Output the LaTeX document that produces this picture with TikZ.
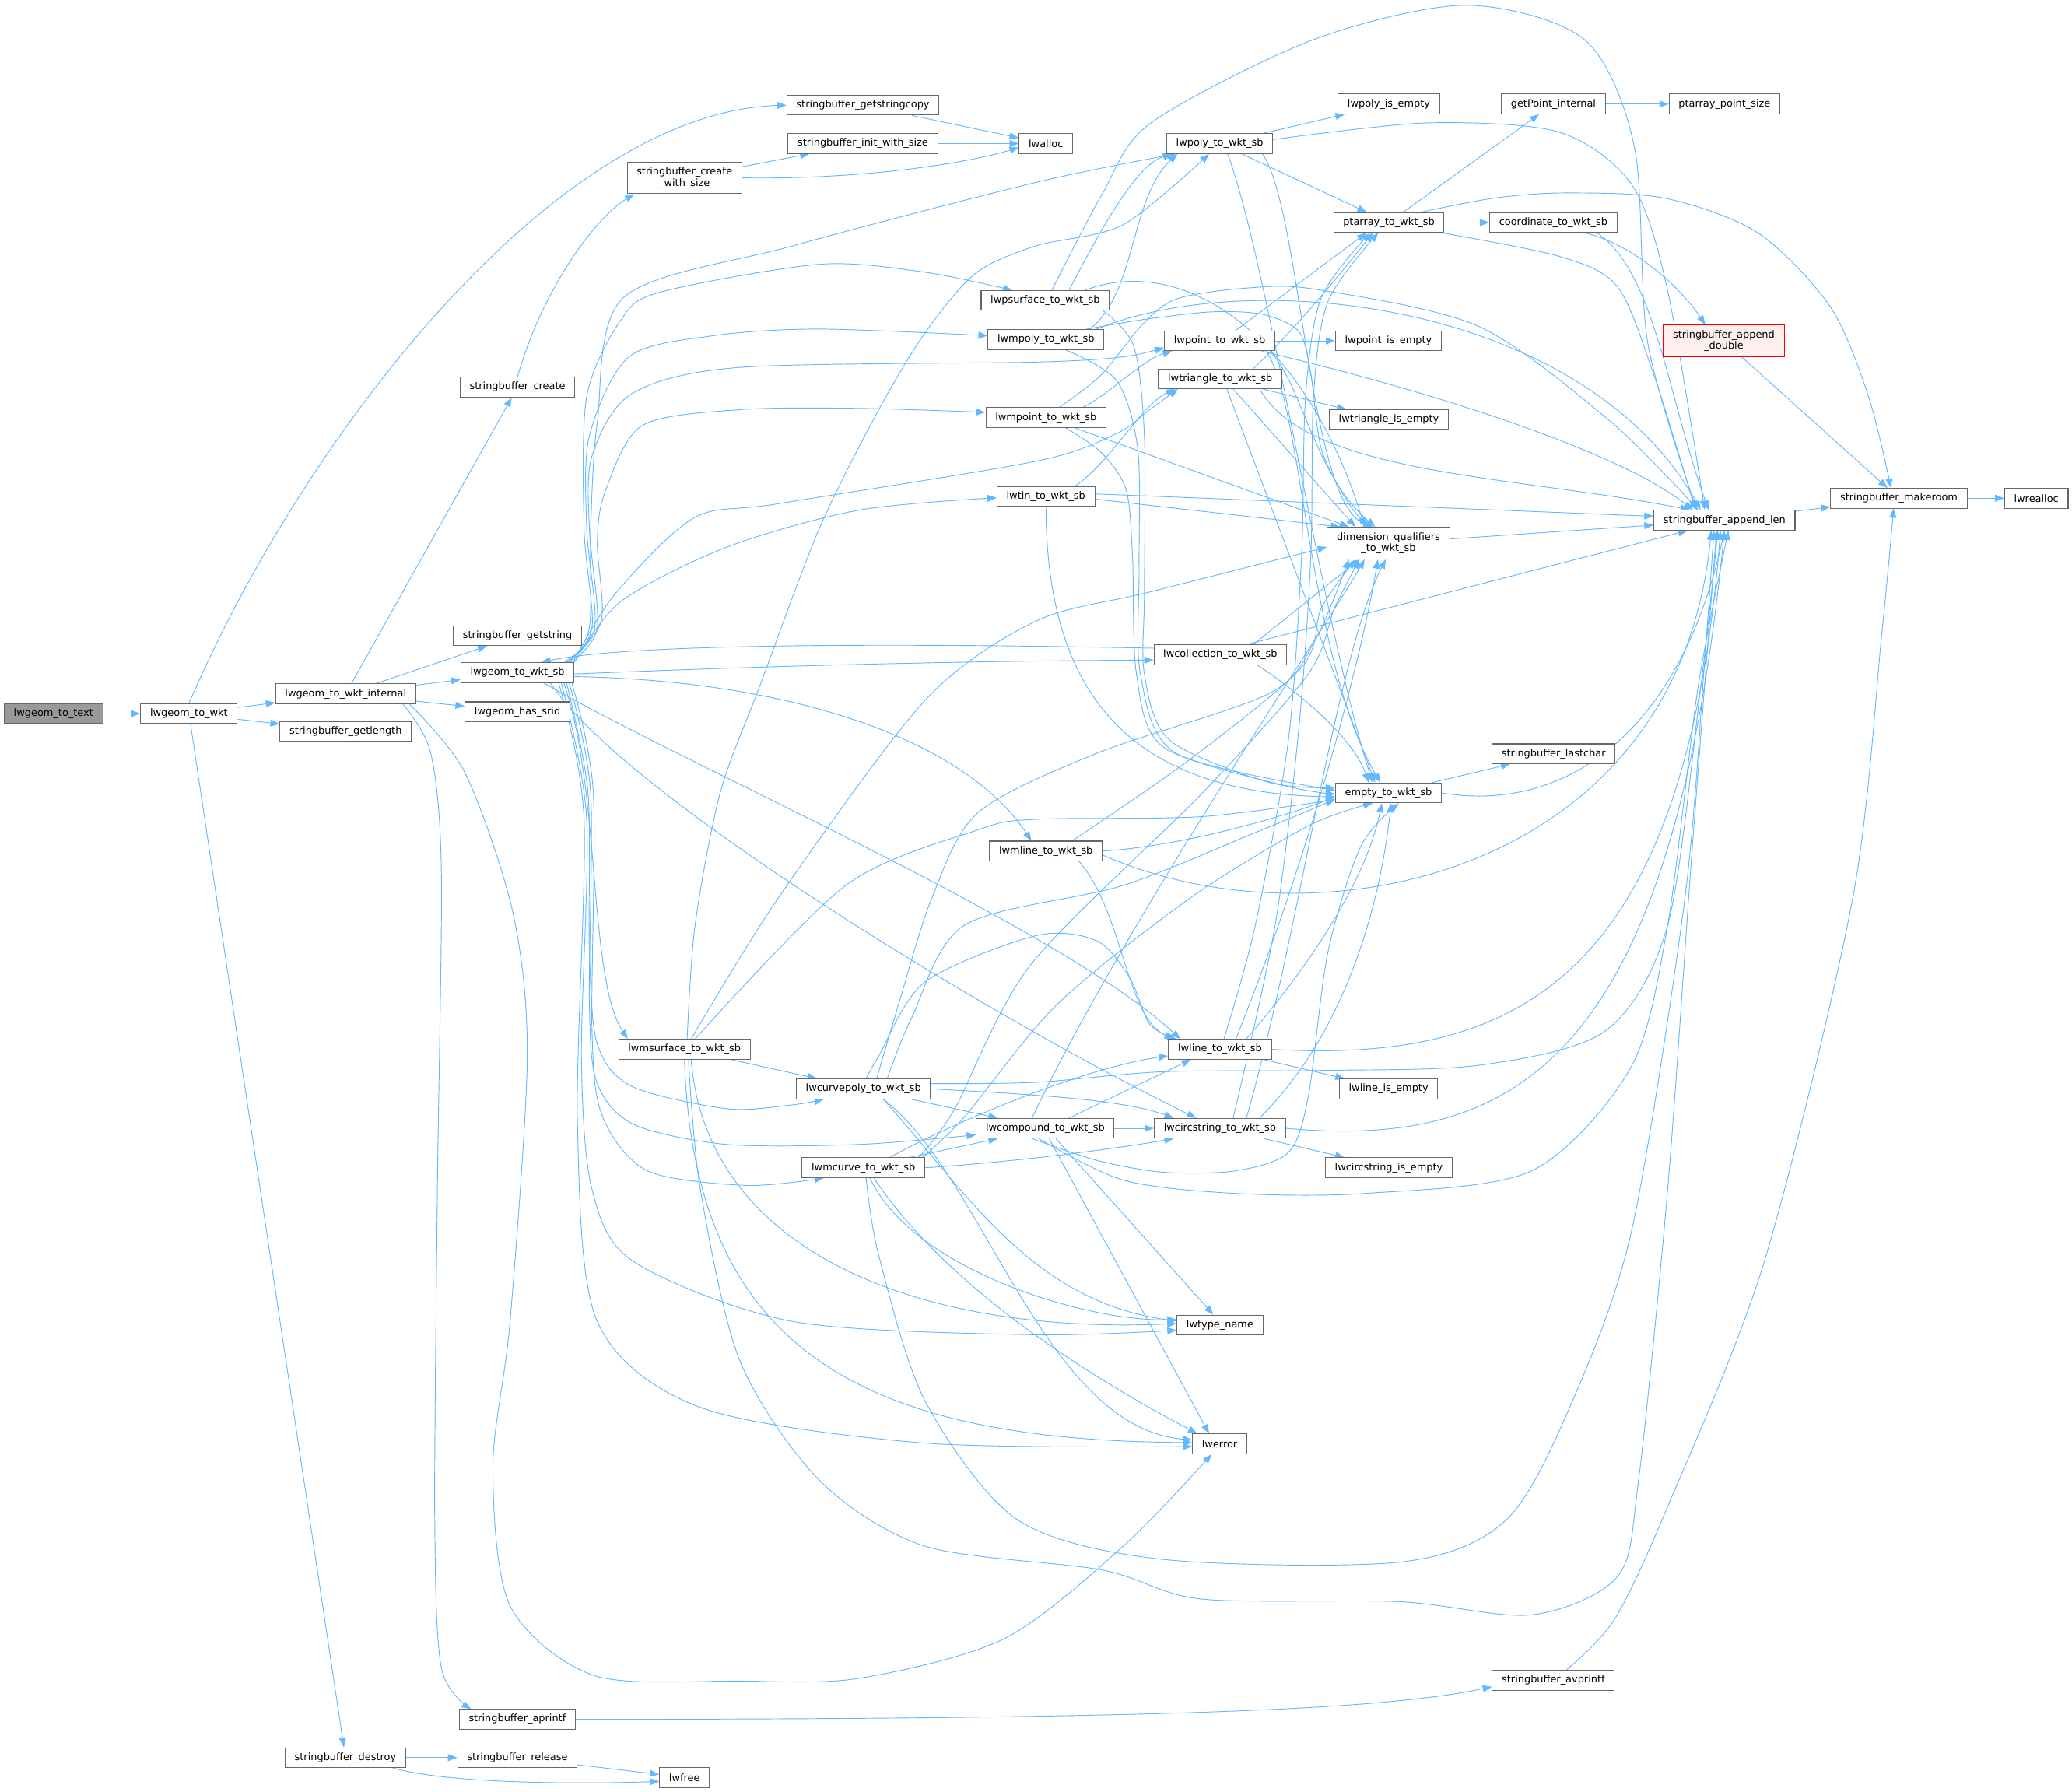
\documentclass[tikz,border=0pt]{standalone}
\usepackage{fontspec}
\setmainfont{DejaVu Sans}
\usetikzlibrary{arrows.meta}
\definecolor{edgec}{HTML}{63B8FF}
\definecolor{nodeb}{HTML}{666666}
\definecolor{rootf}{HTML}{999999}
\definecolor{redb}{HTML}{FF0000}
\definecolor{redf}{HTML}{FFF0F0}
\pgfdeclarelayer{background}
\pgfsetlayers{background,main}
\tikzset{
  nd/.style={draw=nodeb, fill=white, line width=0.6pt, inner xsep=7.2pt, inner ysep=0pt,
    minimum height=15pt, font=\fontsize{7.6}{8.7}\selectfont},
  nd2/.style={nd, align=center, minimum height=24pt},
  edg/.style={draw=edgec, line width=0.55pt, -{Triangle[length=7pt,width=5.2pt]}},
}
\begin{document}
\begin{tikzpicture}[x=1pt,y=-1pt]
\useasboundingbox (0,0) rectangle (1568,1356);
% nodes
\node[nd, fill=rootf] (root) at (40.5,540) {lwgeom\_to\_text};
\node[nd] (wkt) at (143,540) {lwgeom\_to\_wkt};
\node[nd] (internal) at (261.6,525) {lwgeom\_to\_wkt\_internal};
\node[nd] (getlength) at (261.6,553.6) {stringbuffer\_getlength};
\node[nd] (destroy) at (261.4,1330) {stringbuffer\_destroy};
\node[nd] (create) at (391.6,293) {stringbuffer\_create};
\node[nd] (getstring) at (391.6,481) {stringbuffer\_getstring};
\node[nd] (wktsb) at (391.6,509) {lwgeom\_to\_wkt\_sb};
\node[nd] (srid) at (391.6,538.6) {lwgeom\_has\_srid};
\node[nd] (aprintf) at (391.5,1301) {stringbuffer\_aprintf};
\node[nd] (release) at (391.5,1330) {stringbuffer\_release};
\node[nd2] (cws) at (518,134.6) {stringbuffer\_create\\\_with\_size};
\node[nd] (msurface) at (518,794) {lwmsurface\_to\_wkt\_sb};
\node[nd] (lwfree) at (518,1345) {lwfree};
\node[nd] (gcopy) at (653,79.6) {stringbuffer\_getstringcopy};
\node[nd] (iws) at (653,108.6) {stringbuffer\_init\_with\_size};
\node[nd] (curvepoly) at (653.4,824) {lwcurvepoly\_to\_wkt\_sb};
\node[nd] (mcurve) at (653.4,883.6) {lwmcurve\_to\_wkt\_sb};
\node[nd] (lwalloc) at (791.5,108.6) {lwalloc};
\node[nd] (psurface) at (791,227.4) {lwpsurface\_to\_wkt\_sb};
\node[nd] (mpoly) at (791.5,257) {lwmpoly\_to\_wkt\_sb};
\node[nd] (mpoint) at (791.5,316) {lwmpoint\_to\_wkt\_sb};
\node[nd] (tin) at (791.5,375.7) {lwtin\_to\_wkt\_sb};
\node[nd] (mline) at (791.5,644) {lwmline\_to\_wkt\_sb};
\node[nd] (compound) at (791,853.8) {lwcompound\_to\_wkt\_sb};
\node[nd] (poly) at (923,108.6) {lwpoly\_to\_wkt\_sb};
\node[nd] (point) at (923,258) {lwpoint\_to\_wkt\_sb};
\node[nd] (triangle) at (923.4,286.7) {lwtriangle\_to\_wkt\_sb};
\node[nd] (collection) at (923.5,495.5) {lwcollection\_to\_wkt\_sb};
\node[nd] (line) at (923.2,794) {lwline\_to\_wkt\_sb};
\node[nd] (circ) at (923.2,853.8) {lwcircstring\_to\_wkt\_sb};
\node[nd] (typename) at (923.2,1002.6) {lwtype\_name};
\node[nd] (lwerror) at (923,1092.6) {lwerror};
\node[nd] (polyempty) at (1051,78.7) {lwpoly\_is\_empty};
\node[nd] (ptarray) at (1051,168.4) {ptarray\_to\_wkt\_sb};
\node[nd] (pointempty) at (1050.7,258) {lwpoint\_is\_empty};
\node[nd] (triempty) at (1051,317.4) {lwtriangle\_is\_empty};
\node[nd2] (dimq) at (1050.7,411) {dimension\_qualifiers\\\_to\_wkt\_sb};
\node[nd] (empty) at (1050.7,600) {empty\_to\_wkt\_sb};
\node[nd] (lineempty) at (1050.8,824) {lwline\_is\_empty};
\node[nd] (circempty) at (1051,883.6) {lwcircstring\_is\_empty};
\node[nd] (getpoint) at (1175.5,78.7) {getPoint\_internal};
\node[nd] (coord) at (1175.5,168.4) {coordinate\_to\_wkt\_sb};
\node[nd] (lastchar) at (1175.7,570.4) {stringbuffer\_lastchar};
\node[nd] (avprintf) at (1175.5,1271.4) {stringbuffer\_avprintf};
\node[nd] (ptsize) at (1305,78.7) {ptarray\_point\_size};
\node[nd2, draw=redb, fill=redf] (appdouble) at (1304.5,258) {stringbuffer\_append\\\_double};
\node[nd] (applen) at (1305,393.7) {stringbuffer\_append\_len};
\node[nd] (makeroom) at (1437,377) {stringbuffer\_makeroom};
\node[nd] (lwrealloc) at (1541,377) {lwrealloc};

\begin{pgfonlayer}{background}
\fill[white] (0,0) rectangle (1568,1356);
% root / wkt
\draw[edg] (root) -- (wkt);
\draw[edg] (wkt) -- (internal);
\draw[edg] (wkt) -- (getlength);
\draw[edg] (wkt.north) .. controls (230,330) and (420,85) .. (gcopy.west);
\draw[edg] (wkt) -- (destroy);
% internal
\draw[edg] (internal) -- (create);
\draw[edg] (internal) -- (getstring);
\draw[edg] (internal) -- (wktsb);
\draw[edg] (internal) -- (srid);
\draw[edg] plot[smooth] coordinates {([xshift=-10pt]internal.south east) (326,570) (334,660) (331,900) (329,1150) (334,1262) ([xshift=-35pt]aprintf.north)};
\draw[edg] plot[smooth] coordinates {([xshift=-5pt]internal.south east) (352,585) (388,690) (399,800) (386,1000) (373,1110) (386,1215) (450,1268) (560,1272) (650,1270) (760,1240) (850,1170) ([xshift=-6pt]lwerror.south)};
% buffers
\draw[edg] (create.north) .. controls (410,220) and (450,165) .. ([xshift=-38pt]cws.south);
\draw[edg] (cws) -- (iws);
\draw[edg] (cws.east) .. controls (650,136) and (730,124) .. ([yshift=-3pt]lwalloc.west);
\draw[edg] (iws) -- (lwalloc);
\draw[edg] (gcopy) -- (lwalloc);
\draw[edg] (destroy) -- (release);
\draw[edg] ([xshift=-10pt]destroy.south east) .. controls (340,1350) and (440,1350) .. ([yshift=-3pt]lwfree.west);
\draw[edg] (release) -- (lwfree);
\draw[edg] (aprintf.east) .. controls (900,1301) and (1050,1293) .. ([yshift=-5pt]avprintf.west);
\draw[edg] plot[smooth] coordinates {([xshift=10pt]avprintf.north) (1222,1225) (1262,1140) (1335,955) (1402,680) (1424,480) ([xshift=-4pt]makeroom.south)};
\draw[edg] (makeroom) -- (lwrealloc);
\draw[edg] (applen) -- (makeroom);
\draw[edg] (appdouble) -- (makeroom);
\draw[edg] ([xshift=24pt]coord.south) .. controls (1235,185) and (1270,215) .. ([xshift=-14pt]appdouble.north);
\draw[edg] ([xshift=33pt]coord.south) .. controls (1252,205) and (1262,300) .. ([xshift=-12pt]applen.north);
\draw[edg] (ptarray) -- (coord);
\draw[edg] (ptarray) -- (getpoint);
\draw[edg] (getpoint) -- (ptsize);
\draw[edg] plot[smooth] coordinates {([xshift=40pt]ptarray.south) (1180,194) (1224,217) (1252,285) ([xshift=-22pt]applen.north)};
\draw[edg] plot[smooth] coordinates {([xshift=24pt]ptarray.north) (1130,150) (1184,146) (1260,150) (1330,176) (1385,232) (1414,300) ([xshift=-6pt]makeroom.north)};
% poly
\draw[edg] (poly) -- (polyempty);
\draw[edg] (poly) -- (ptarray);
\draw[edg] plot[smooth] coordinates {([yshift=3pt]poly.east) (1080,93) (1180,100) (1235,140) (1262,220) ([xshift=-15pt]applen.north)};
\draw[edg] ([xshift=-8pt]poly.south east) .. controls (985,160) and (990,380) .. ([xshift=-12pt]dimq.north);
\draw[edg] ([xshift=6pt]poly.south) .. controls (960,200) and (1000,470) .. ([xshift=-12pt]empty.north);
% psurface
\draw[edg] ([xshift=18pt]psurface.north) .. controls (835,170) and (860,125) .. ([xshift=-36pt]poly.south);
\draw[edg] plot[smooth] coordinates {([xshift=5pt]psurface.north) (834,147) (871,93) (994,30) (1109,4) (1199,30) (1237,112) (1247,260) ([xshift=-21pt]applen.north)};
\draw[edg] ([xshift=30pt]psurface.north) .. controls (900,190) and (990,260) .. ([xshift=-18pt]dimq.north);
\draw[edg] plot[smooth] coordinates {([xshift=-5pt]psurface.south east) (858,262) (866,330) (866,450) (866,510) (885,560) (960,592) ([yshift=4pt]empty.west)};
% mpoly
\draw[edg] ([xshift=33pt]mpoly.north) .. controls (860,222) and (855,150) .. ([xshift=-32pt]poly.south);
\draw[edg] plot[smooth] coordinates {([xshift=30pt]mpoly.north) (864,242) (917,236) (956,238) (983,251) (992,283) (1000,340) (1020,380) ([xshift=-15pt]dimq.north)};
\draw[edg] plot[smooth] coordinates {([xshift=15pt]mpoly.south) (845,288) (861,340) (862,430) (863,510) (890,570) ([yshift=2pt]empty.west)};
\draw[edg] ([xshift=38pt]mpoly.north) .. controls (950,200) and (1200,230) .. ([xshift=-18pt]applen.north);
% point
\draw[edg] (point) -- (pointempty);
\draw[edg] ([xshift=12pt]point.north) -- ([xshift=-17pt]ptarray.south);
\draw[edg] ([xshift=38pt]point.south) .. controls (985,290) and (995,360) .. ([xshift=-10pt]dimq.north);
\draw[edg] ([xshift=35pt]point.south) .. controls (985,300) and (990,500) .. ([xshift=-6pt]empty.north);
\draw[edg] ([xshift=32pt]point.south) .. controls (1100,300) and (1230,345) .. ([xshift=-24pt]applen.north);
% mpoint
\draw[edg] ([xshift=28pt]mpoint.north) .. controls (840,298) and (865,272) .. ([xshift=-36pt]point.south);
\draw[edg] ([xshift=22pt]mpoint.south) -- ([xshift=-30pt]dimq.north);
\draw[edg] plot[smooth] coordinates {([xshift=15pt]mpoint.south) (833,342) (852,370) (857,420) (860,510) (880,565) (970,594) ([yshift=-1pt]empty.west)};
\draw[edg] plot[smooth] coordinates {([xshift=10pt]mpoint.north) (833,284) (865,245) (891,226) (943,218) (996,219) (1119,247) (1220,320) ([xshift=-20pt]applen.north)};
% triangle
\draw[edg] (triangle) -- (triempty);
\draw[edg] ([xshift=25pt]triangle.north) .. controls (980,250) and (1020,200) .. ([xshift=-12pt]ptarray.south);
\draw[edg] ([xshift=10pt]triangle.south) -- ([xshift=-25pt]dimq.north);
\draw[edg] ([xshift=5pt]triangle.south) -- ([xshift=-10pt]empty.north);
\draw[edg] ([xshift=30pt]triangle.south) .. controls (990,360) and (1150,360) .. ([xshift=-26pt]applen.north);
% tin
\draw[edg] ([xshift=22pt]tin.north) .. controls (840,350) and (865,305) .. ([xshift=-34pt]triangle.south);
\draw[edg] ([yshift=2pt]tin.east) -- ([yshift=3pt]applen.west);
\draw[edg] ([yshift=-2pt]tin.east) -- ([xshift=10pt]dimq.north west);
\draw[edg] (tin.south) .. controls (792,520) and (850,600) .. ([yshift=-3pt]empty.west);
% collection
\draw[edg] ([yshift=-1pt]wktsb.east) .. controls (600,503) and (750,500) .. ([yshift=-4pt]collection.west);
\draw[edg] ([yshift=5pt]collection.west) .. controls (700,487) and (480,486) .. ([xshift=18pt]wktsb.north);
\draw[edg] ([xshift=25pt]collection.north) -- ([xshift=-22pt]dimq.south);
\draw[edg] ([xshift=20pt]collection.north) -- ([xshift=-28pt]applen.south);
\draw[edg] ([xshift=28pt]collection.south) .. controls (985,525) and (1025,560) .. ([xshift=-15pt]empty.north);
% mline
\draw[edg] ([xshift=25pt]mline.south) .. controls (850,690) and (852,770) .. ([xshift=-35pt]line.north);
\draw[edg] plot[smooth] coordinates {([xshift=20pt]mline.north) (900,575) (985,505) (1000,460) ([xshift=-25pt]dimq.south)};
\draw[edg] (mline.east) .. controls (900,640) and (980,615) .. ([yshift=-3pt]empty.west);
\draw[edg] ([yshift=-3pt]mline.east) .. controls (1000,720) and (1270,660) .. ([xshift=-10pt]applen.south);
% line
\draw[edg] (line) -- (lineempty);
\draw[edg] plot[smooth] coordinates {([xshift=3pt]line.north) (950,700) (975,560) (985,420) (988,300) (1000,225) ([xshift=-14pt]ptarray.south)};
\draw[edg] ([xshift=12pt]line.north) .. controls (990,650) and (1030,500) .. ([xshift=-8pt]dimq.south);
\draw[edg] ([xshift=20pt]line.north) .. controls (1000,720) and (1035,660) .. ([xshift=-5pt]empty.south);
\draw[edg] (line.east) .. controls (1150,805) and (1275,740) .. ([xshift=-3pt]applen.south);
% circstring
\draw[edg] (circ) -- (circempty);
\draw[edg] plot[smooth] coordinates {([xshift=10pt]circ.north) (965,700) (983,550) (992,420) (994,300) (1005,228) ([xshift=-8pt]ptarray.south)};
\draw[edg] ([xshift=20pt]circ.north) .. controls (985,700) and (1010,500) .. ([xshift=-2pt]dimq.south);
\draw[edg] ([xshift=30pt]circ.north) .. controls (1020,780) and (1045,680) .. ([xshift=2pt]empty.south);
\draw[edg] (circ.east) .. controls (1150,870) and (1265,800) .. (applen.south);
% compound
\draw[edg] ([xshift=18pt]compound.north) -- ([xshift=-22pt]line.south);
\draw[edg] (compound) -- (circ);
\draw[edg] ([xshift=-10pt]compound.north) .. controls (850,700) and (1000,480) .. ([xshift=-18pt]dimq.south);
\draw[edg] plot[smooth] coordinates {([xshift=-10pt]compound.south) (830,878) (880,887) (935,886) (975,872) (990,830) (1005,720) (1030,640) ([xshift=8pt]empty.south)};
\draw[edg] plot[smooth] coordinates {([xshift=-5pt]compound.south) (850,893) (934,903) (1034,903) (1159,886) (1234,808) (1262,700) (1285,520) ([xshift=3pt]applen.south)};
\draw[edg] ([xshift=8pt]compound.south) -- ([xshift=-5pt]typename.north);
\draw[edg] ([xshift=3pt]compound.south) -- ([xshift=-8pt]lwerror.north);
% curvepoly
\draw[edg] (curvepoly) -- (compound);
\draw[edg] (curvepoly.east) .. controls (780,828) and (850,832) .. ([xshift=-35pt]circ.north);
\draw[edg] plot[smooth] coordinates {([xshift=2pt]curvepoly.north) (665,799) (700,743) (784,708) (830,712) (855,740) (870,775) ([xshift=-33pt]line.north)};
\draw[edg] plot[smooth] coordinates {([xshift=10pt]curvepoly.north) (680,760) (705,680) (740,615) (830,570) (960,525) (995,485) ([xshift=-30pt]dimq.south)};
\draw[edg] plot[smooth] coordinates {([xshift=18pt]curvepoly.north) (690,770) (730,700) (850,670) (950,630) ([yshift=-5pt]empty.west)};
\draw[edg] plot[smooth] coordinates {([yshift=4pt]curvepoly.east) (784,819) (880,811) (1000,810) (1120,806) (1215,780) (1262,700) (1287,520) ([xshift=-5pt]applen.south)};
\draw[edg] ([xshift=15pt]curvepoly.south) .. controls (730,900) and (780,985) .. ([yshift=3pt]typename.west);
\draw[edg] ([xshift=15pt]curvepoly.south) .. controls (745,890) and (790,1080) .. ([yshift=3pt]lwerror.west);
% mcurve
\draw[edg] ([xshift=35pt]mcurve.north) -- ([xshift=-36pt]compound.south);
\draw[edg] (mcurve.east) .. controls (760,880) and (840,870) .. ([xshift=-35pt]circ.south);
\draw[edg] ([xshift=20pt]mcurve.north) .. controls (720,850) and (820,808) .. ([yshift=-5pt]line.west);
\draw[edg] plot[smooth] coordinates {([xshift=-5pt]mcurve.north east) (722,840) (780,730) (910,600) (990,510) (1010,460) ([xshift=-22pt]dimq.south)};
\draw[edg] plot[smooth] coordinates {([xshift=-2pt]mcurve.north east) (730,845) (800,760) (900,680) (990,625) ([xshift=-12pt]empty.south)};
\draw[edg] plot[smooth] coordinates {([xshift=2pt]mcurve.south) (665,950) (700,1060) (770,1150) (880,1180) (1060,1182) (1140,1150) (1190,1060) (1235,930) (1275,680) (1290,500) ([xshift=-8pt]applen.south)};
\draw[edg] ([xshift=5pt]mcurve.south) .. controls (690,960) and (820,1000) .. ([yshift=4pt]typename.west);
\draw[edg] ([xshift=8pt]mcurve.south) .. controls (720,980) and (840,1050) .. ([xshift=-17pt]lwerror.north);
% msurface
\draw[edg] (msurface) -- (curvepoly);
\draw[edg] plot[smooth] coordinates {([xshift=2pt]msurface.north) (526,700) (545,600) (575,519) (620,400) (665,310) (700,252) (738,207) (784,186) (850,170) ([xshift=-8pt]poly.south)};
\draw[edg] plot[smooth] coordinates {([xshift=5pt]msurface.north) (590,678) (700,530) (784,470) (870,448) ([yshift=-3pt]dimq.west)};
\draw[edg] plot[smooth] coordinates {([xshift=8pt]msurface.north) (640,670) (740,628) (784,620) (909,618) ([yshift=-5pt]empty.west)};
\draw[edg] plot[smooth] coordinates {([xshift=3pt]msurface.south) (530,900) (560,1030) (620,1120) (700,1170) (834,1188) (909,1210) (1059,1212) (1159,1222) (1224,1193) (1240,1120) (1262,900) (1280,650) ([xshift=-6pt]applen.south)};
\draw[edg] ([xshift=5pt]msurface.south) .. controls (535,950) and (700,1010) .. ([yshift=1pt]typename.west);
\draw[edg] (msurface.south) .. controls (525,1020) and (650,1090) .. ([yshift=1pt]lwerror.west);
% wktsb up bundle
\draw[edg] plot[smooth] coordinates {([xshift=-4pt]wktsb.north east) (446,475) (447,400) (452,320) (472,225) (600,186) (784,138) ([xshift=-33pt]poly.south)};
\draw[edg] plot[smooth] coordinates {([xshift=-6pt]wktsb.north east) (448,475) (442,400) (444,300) (470,242) (500,221) (620,200) (700,206) ([xshift=-25pt]psurface.north)};
\draw[edg] plot[smooth] coordinates {([xshift=-8pt]wktsb.north east) (450,475) (444,400) (446,330) (476,270) (540,254) (620,249) ([yshift=3pt]mpoly.west)};
\draw[edg] plot[smooth] coordinates {([xshift=-3pt]wktsb.north east) (452,475) (446,400) (448,345) (478,298) (560,278) (784,274) (850,270) ([yshift=-5pt]point.west)};
\draw[edg] plot[smooth] coordinates {([xshift=-5pt]wktsb.north east) (455,470) (452,410) (458,372) (486,322) (560,310) (650,309) ([yshift=4pt]mpoint.west)};
\draw[edg] plot[smooth] coordinates {([xshift=-1pt]wktsb.north east) (465,450) (525,392) (590,381) (784,349) (845,328) (870,310) ([xshift=-32pt]triangle.south)};
\draw[edg] plot[smooth] coordinates {(wktsb.north east) (470,455) (550,414) (650,386) ([yshift=-1pt]tin.west)};
% wktsb down bundle
\draw[edg] ([yshift=-3pt]wktsb.east) .. controls (600,515) and (730,560) .. ([xshift=-11pt]mline.north);
\draw[edg] ([xshift=20pt]wktsb.south) .. controls (520,580) and (800,700) .. ([xshift=-30pt]line.north);
\draw[edg] ([xshift=25pt]wktsb.south) .. controls (470,600) and (750,770) .. ([xshift=-18pt]circ.north);
\draw[edg] ([xshift=-8pt]wktsb.south east) .. controls (455,600) and (445,740) .. ([xshift=-43pt]msurface.north);
\draw[edg] plot[smooth] coordinates {([xshift=-6pt]wktsb.south east) (445,600) (446,720) (452,790) (478,822) (550,839) (600,836) ([xshift=-30pt]curvepoly.south)};
\draw[edg] plot[smooth] coordinates {([xshift=-4pt]wktsb.south east) (447,600) (446,760) (452,820) (480,851) (550,866) (650,866) ([yshift=-5pt]compound.west)};
\draw[edg] plot[smooth] coordinates {([xshift=-2pt]wktsb.south east) (449,600) (448,780) (456,845) (490,886) (565,897) ([xshift=-30pt]mcurve.south)};
\draw[edg] plot[smooth] coordinates {([xshift=-10pt]wktsb.south east) (444,620) (440,800) (448,900) (480,955) (600,1000) (780,1010) ([yshift=-4pt]typename.west)};
\draw[edg] plot[smooth] coordinates {([xshift=-12pt]wktsb.south east) (442,620) (437,850) (452,1000) (530,1065) (700,1092) ([yshift=-2pt]lwerror.west)};
% dimq / empty
\draw[edg] (dimq) -- (applen);
\draw[edg] (empty) -- (lastchar);
\draw[edg] (empty.east) .. controls (1180,615) and (1270,560) .. (applen.south);
\end{pgfonlayer}
\end{tikzpicture}
\end{document}
